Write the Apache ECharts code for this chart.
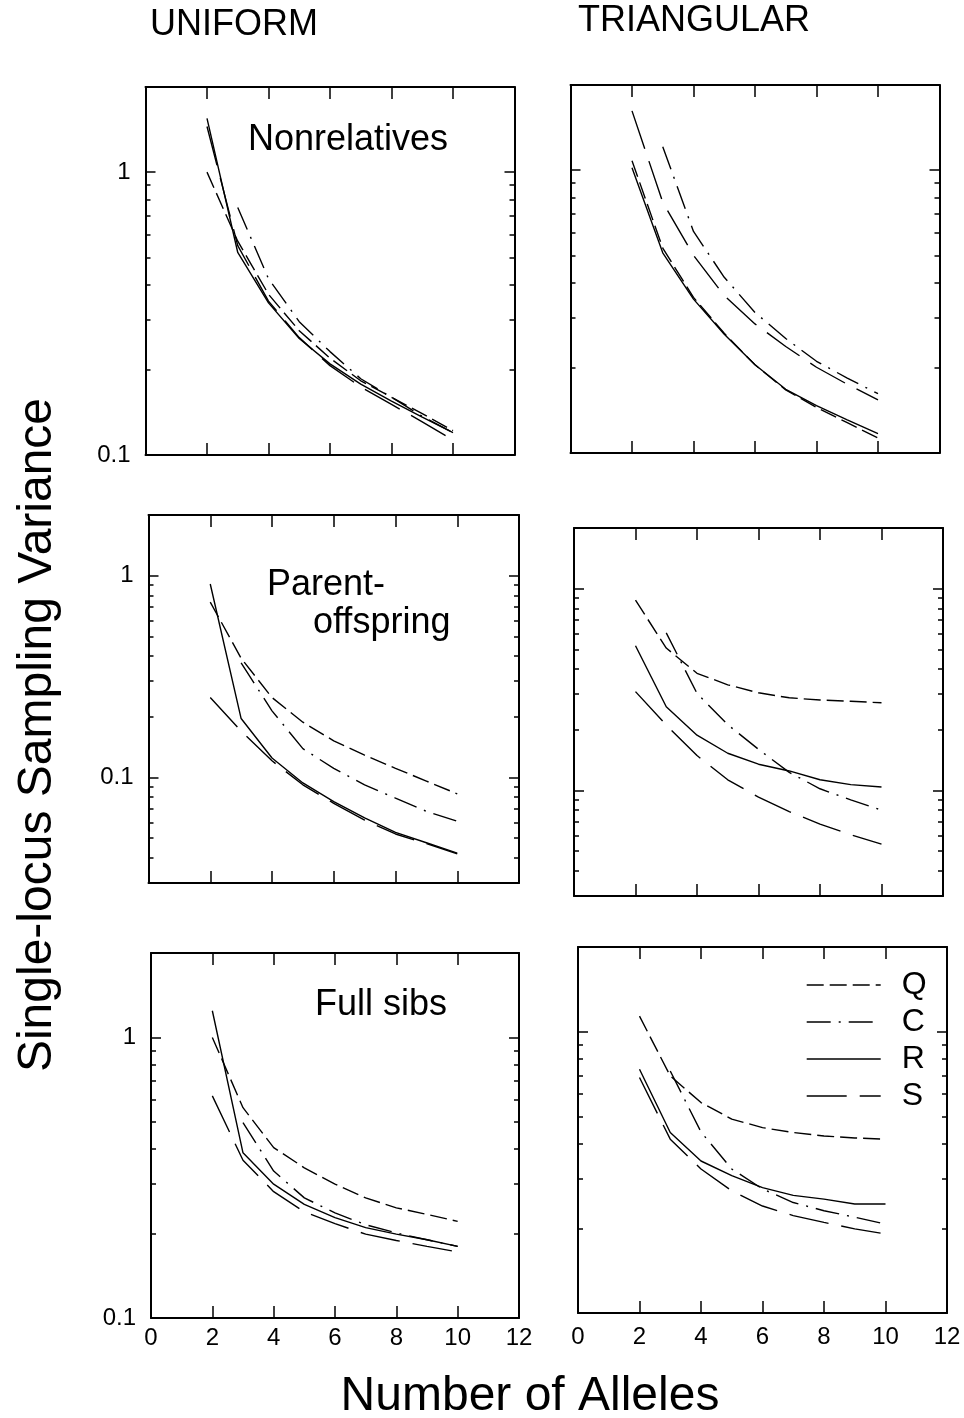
<!DOCTYPE html>
<html>
<head>
<meta charset="utf-8">
<title>Single-locus sampling variance</title>
<script src="https://cdn.jsdelivr.net/npm/echarts@6/dist/echarts.min.js"></script>
<style>
	html, body { margin: 0; padding: 0; background: #fff; }
	#chart { width: 964px; height: 1418px; }
</style>
</head>
<body>
<div id="chart"></div>
<script>
var alleles = [2, 3, 4, 5, 6, 7, 8, 9, 10];
var xTickValues = [2, 4, 6, 8, 10];
var xLabelValues = [0, 2, 4, 6, 8, 10, 12];
var yMajorValues = [0.1, 1];
var yMinorValues = [0.04, 0.05, 0.06, 0.07, 0.08, 0.09, 0.2, 0.3, 0.4, 0.5, 0.6, 0.7, 0.8, 0.9];
var estimators = ['Q', 'C', 'R', 'S'];

// UNIFORM - Nonrelatives
var uniNonrelQ = [1.0, 0.57, 0.37, 0.275, 0.22, 0.183, 0.16, 0.14, 0.122];
var uniNonrelC = [null, 0.75, 0.42, 0.296, 0.232, 0.186, 0.16, 0.137, 0.12];
var uniNonrelR = [1.55, 0.52, 0.345, 0.258, 0.21, 0.178, 0.155, 0.136, 0.12];
var uniNonrelS = [1.45, 0.55, 0.35, 0.26, 0.207, 0.174, 0.151, 0.131, 0.113];

// TRIANGULAR - Nonrelatives
var triNonrelQ = [1.08, 0.53, 0.355, 0.265, 0.205, 0.167, 0.145, 0.128, 0.113];
var triNonrelC = [null, 1.21, 0.607, 0.418, 0.314, 0.254, 0.211, 0.184, 0.162];
var triNonrelR = [1.02, 0.51, 0.35, 0.263, 0.205, 0.168, 0.147, 0.131, 0.117];
var triNonrelS = [1.62, 0.77, 0.5, 0.36, 0.286, 0.238, 0.201, 0.175, 0.154];

// UNIFORM - Parent-offspring
var uniParQ = [0.74, 0.39, 0.249, 0.188, 0.152, 0.129, 0.111, 0.096, 0.083];
var uniParC = [null, 0.37, 0.214, 0.139, 0.111, 0.092, 0.079, 0.068, 0.0607];
var uniParR = [0.91, 0.196, 0.125, 0.094, 0.076, 0.063, 0.0535, 0.0475, 0.0422];
var uniParS = [0.249, 0.17, 0.121, 0.092, 0.0745, 0.0615, 0.0525, 0.047, 0.0418];

// TRIANGULAR - Parent-offspring
var triParQ = [0.878, 0.508, 0.381, 0.334, 0.305, 0.288, 0.281, 0.277, 0.272];
var triParC = [null, 0.604, 0.303, 0.212, 0.16, 0.123, 0.102, 0.0898, 0.080];
var triParR = [0.522, 0.26, 0.188, 0.153, 0.135, 0.125, 0.113, 0.107, 0.104];
var triParS = [0.309, 0.211, 0.149, 0.113, 0.0927, 0.0786, 0.0682, 0.0604, 0.0542];

// UNIFORM - Full sibs
var uniSibQ = [1.0, 0.562, 0.405, 0.343, 0.3, 0.268, 0.247, 0.234, 0.221];
var uniSibC = [null, 0.497, 0.334, 0.268, 0.237, 0.215, 0.201, 0.19, 0.18];
var uniSibR = [1.245, 0.388, 0.3, 0.254, 0.228, 0.21, 0.199, 0.19, 0.18];
var uniSibS = [0.619, 0.365, 0.282, 0.239, 0.217, 0.199, 0.189, 0.18, 0.172];

// TRIANGULAR - Full sibs
var triSibQ = [1.136, 0.696, 0.56, 0.489, 0.456, 0.438, 0.426, 0.419, 0.415];
var triSibC = [null, 0.725, 0.44, 0.325, 0.276, 0.247, 0.231, 0.219, 0.207];
var triSibR = [0.735, 0.438, 0.347, 0.308, 0.279, 0.262, 0.254, 0.244, 0.244];
var triSibS = [0.687, 0.415, 0.325, 0.272, 0.24, 0.222, 0.21, 0.199, 0.191];

var lineTypes = {
	Q : [17, 6],
	C : [24, 8, 2, 8],
	R : 'solid',
	S : [40, 13]
};

var FONT = '"Liberation Sans", Arial, Helvetica, sans-serif';

var panels = [
	{ left : 145.5, top : 87, width : 369, height : 368, yMin : 0.1, yMax : 2, yLabels : true, xLabels : false, xMargin : 8,
		lines : [uniNonrelQ, uniNonrelC, uniNonrelR, uniNonrelS] },
	{ left : 570.5, top : 85, width : 369, height : 368, yMin : 0.1, yMax : 2, yLabels : false, xLabels : false, xMargin : 8,
		lines : [triNonrelQ, triNonrelC, triNonrelR, triNonrelS] },
	{ left : 148.5, top : 515, width : 370.5, height : 368, yMin : 0.03, yMax : 2, yLabels : true, xLabels : false, xMargin : 8,
		lines : [uniParQ, uniParC, uniParR, uniParS] },
	{ left : 574, top : 528, width : 369, height : 368, yMin : 0.03, yMax : 2, yLabels : false, xLabels : false, xMargin : 8,
		lines : [triParQ, triParC, triParR, triParS] },
	{ left : 151, top : 953, width : 368, height : 365, yMin : 0.1, yMax : 2, yLabels : true, xLabels : true, xMargin : 8,
		lines : [uniSibQ, uniSibC, uniSibR, uniSibS] },
	{ left : 578, top : 947, width : 369, height : 366, yMin : 0.1, yMax : 2, yLabels : false, xLabels : true, xMargin : 12,
		lines : [triSibQ, triSibC, triSibR, triSibS] }
];

function pairs(ys) {
	var out = [];
	for (var i = 0; i < alleles.length; i++) {
		if (ys[i] != null) out.push([alleles[i], ys[i]]);
	}
	return out;
}

function inRange(vals, lo, hi) {
	return vals.filter(function(v) { return v > lo * 1.0001 && v < hi * 0.9999; });
}

function xAxisFor(i, p, pos) {
	return {
		gridIndex : i,
		type : 'value',
		position : pos,
		min : 0,
		max : 12,
		interval : 2,
		axisLine : { show : true, onZero : false, lineStyle : { color : '#000', width : 2 } },
		axisTick : { show : true, inside : true, length : 12, customValues : xTickValues,
			lineStyle : { color : '#000', width : 1.5 } },
		axisLabel : { show : pos == 'bottom' && p.xLabels, customValues : xLabelValues,
			fontSize : 24, color : '#000', fontFamily : FONT, margin : p.xMargin },
		splitLine : { show : false }
	};
}

function yAxisFor(i, p, pos, major) {
	return {
		gridIndex : i,
		type : 'log',
		logBase : 10,
		position : pos,
		min : p.yMin,
		max : p.yMax,
		axisLine : { show : major, onZero : false, lineStyle : { color : '#000', width : 2 } },
		axisTick : { show : true, inside : true, length : major ? 10 : 5,
			customValues : major ? yMajorValues : inRange(yMinorValues, p.yMin, p.yMax),
			lineStyle : { color : '#000', width : 1.5 } },
		axisLabel : { show : major && pos == 'left' && p.yLabels, customValues : yMajorValues,
			fontSize : 24, color : '#000', fontFamily : FONT, margin : 15,
			formatter : function(v) { return String(+(+v).toPrecision(3)); } },
		splitLine : { show : false }
	};
}

var grids = [], xAxes = [], yAxes = [], series = [];
for (var i = 0; i < panels.length; i++) {
	var p = panels[i];
	grids.push({ left : p.left, top : p.top, width : p.width, height : p.height, containLabel : false });
	xAxes.push(xAxisFor(i, p, 'bottom'));
	xAxes.push(xAxisFor(i, p, 'top'));
	yAxes.push(yAxisFor(i, p, 'left', true));
	yAxes.push(yAxisFor(i, p, 'left', false));
	yAxes.push(yAxisFor(i, p, 'right', true));
	yAxes.push(yAxisFor(i, p, 'right', false));
	for (var k = 0; k < estimators.length; k++) {
		series.push({
			name : estimators[k],
			type : 'line',
			xAxisIndex : 2 * i,
			yAxisIndex : 4 * i,
			data : pairs(p.lines[k]),
			symbol : 'none',
			smooth : false,
			silent : true,
			lineStyle : { color : '#000', width : 1.4, type : lineTypes[estimators[k]] }
		});
	}
}

function label(text, x, y, size, align, rot) {
	return {
		type : 'text',
		x : x,
		y : y,
		rotation : rot || 0,
		silent : true,
		style : {
			text : text,
			fill : '#000',
			font : size + 'px ' + FONT,
			textAlign : align || 'left',
			align : align || 'left',
			textVerticalAlign : 'middle',
			verticalAlign : 'middle'
		}
	};
}

var chart = echarts.init(document.getElementById('chart'), null, { renderer : 'canvas' });
chart.setOption({
	animation : false,
	backgroundColor : '#fff',
	textStyle : { fontFamily : FONT },
	grid : grids,
	xAxis : xAxes,
	yAxis : yAxes,
	series : series,
	legend : {
		data : estimators,
		orient : 'vertical',
		left : 806,
		top : 969,
		padding : 0,
		itemWidth : 74,
		itemHeight : 14,
		itemGap : 5,
		selectedMode : false,
		itemStyle : { opacity : 0 },
		lineStyle : { width : 1.4 },
		textStyle : { fontSize : 32, lineHeight : 32, color : '#000', fontFamily : FONT, padding : [0, 0, 0, 16] }
	},
	graphic : [
		label('UNIFORM', 150, 25, 36),
		label('TRIANGULAR', 578, 21, 36),
		label('Nonrelatives', 248, 140, 36),
		label('Parent-', 267, 585, 36),
		label('offspring', 313, 623, 36),
		label('Full sibs', 315, 1005, 36),
		label('Number of Alleles', 530, 1397, 48, 'center'),
		label('Single-locus Sampling Variance', 38, 735, 48, 'center', Math.PI / 2)
	]
});
</script>
</body>
</html>
